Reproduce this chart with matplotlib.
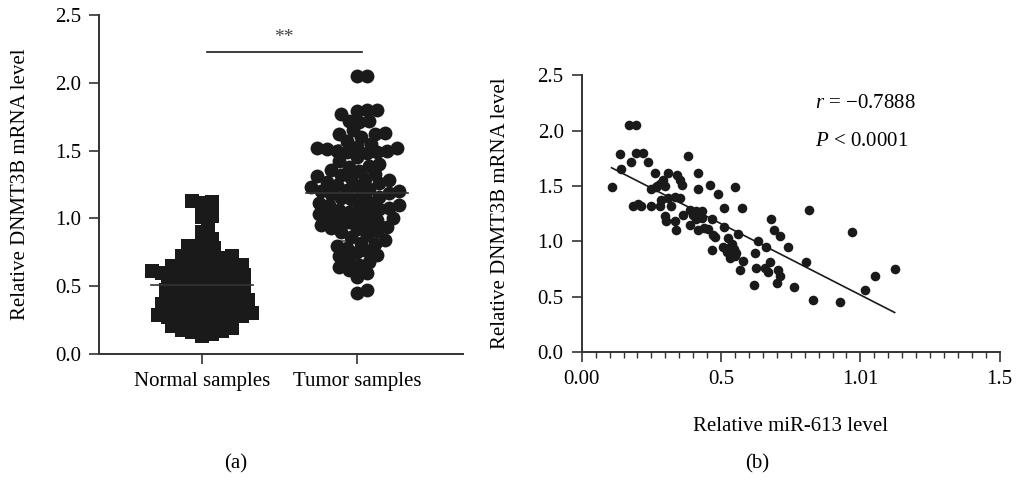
import numpy as np
import matplotlib.pyplot as plt
from matplotlib.ticker import MultipleLocator, FixedLocator

plt.rcParams['font.family'] = ['Liberation Serif', 'DejaVu Serif']
plt.rcParams['font.size'] = 15
plt.rcParams['mathtext.fontset'] = 'custom'
plt.rcParams['mathtext.it'] = 'Liberation Serif:italic'
plt.rcParams['mathtext.rm'] = 'Liberation Serif'

# panel (a): DNMT3B mRNA level per group
groups = ["Normal samples", "Tumor samples"]
normal = [1.13, 1.12, 1.11, 1.02, 1.01, 0.95, 0.90, 0.85, 0.83, 0.80, 0.78, 0.76,
          0.74, 0.72, 0.72, 0.71, 0.70, 0.69, 0.68, 0.66, 0.65, 0.64, 0.63, 0.62,
          0.62, 0.61, 0.60, 0.60, 0.59, 0.58, 0.58, 0.57, 0.56, 0.55, 0.55, 0.54,
          0.53, 0.52, 0.51, 0.50, 0.50, 0.49, 0.48, 0.47, 0.46, 0.45, 0.45, 0.44,
          0.43, 0.42, 0.41, 0.40, 0.40, 0.39, 0.38, 0.37, 0.37, 0.36, 0.35, 0.34,
          0.34, 0.33, 0.32, 0.31, 0.30, 0.30, 0.29, 0.29, 0.28, 0.27, 0.27, 0.26,
          0.25, 0.24, 0.23, 0.22, 0.21, 0.20, 0.19, 0.18, 0.17, 0.16, 0.15, 0.13]
tumor = [2.05, 2.05, 1.80, 1.80, 1.79, 1.77, 1.72, 1.72, 1.71, 1.65, 1.63, 1.62,
         1.62, 1.60, 1.57, 1.55, 1.53, 1.52, 1.52, 1.51, 1.50, 1.50, 1.49, 1.49,
         1.48, 1.45, 1.42, 1.40, 1.39, 1.38, 1.36, 1.35, 1.33, 1.32, 1.31, 1.30,
         1.29, 1.28, 1.27, 1.26, 1.25, 1.24, 1.23, 1.22, 1.21, 1.20, 1.20, 1.19,
         1.18, 1.17, 1.16, 1.15, 1.14, 1.12, 1.11, 1.10, 1.10, 1.09, 1.08, 1.07,
         1.06, 1.05, 1.04, 1.03, 1.02, 1.01, 1.00, 0.99, 0.98, 0.97, 0.96, 0.95,
         0.94, 0.93, 0.92, 0.91, 0.90, 0.88, 0.86, 0.84, 0.82, 0.81, 0.80, 0.78,
         0.76, 0.75, 0.73, 0.72, 0.70, 0.68, 0.66, 0.64, 0.62, 0.60, 0.57, 0.47,
         0.45]

# panel (b): miR-613 vs DNMT3B
mir = [0.107, 0.139, 0.140, 0.176, 0.170, 0.194, 0.196, 0.220, 0.238, 0.262,
       0.310, 0.342, 0.352, 0.361, 0.381, 0.417, 0.417, 0.459, 0.489, 0.549,
       0.250, 0.265, 0.280, 0.292, 0.300, 0.270, 0.184, 0.202, 0.214, 0.248,
       0.280, 0.286, 0.310, 0.334, 0.352, 0.322, 0.298, 0.304, 0.334, 0.337,
       0.364, 0.388, 0.400, 0.410, 0.430, 0.420, 0.388, 0.417, 0.410, 0.430,
       0.468, 0.453, 0.477, 0.510, 0.510, 0.575, 0.561, 0.440, 0.470, 0.469,
       0.507, 0.525, 0.540, 0.545, 0.531, 0.555, 0.520, 0.535, 0.550, 0.577,
       0.567, 0.621, 0.633, 0.663, 0.624, 0.618, 0.657, 0.675, 0.670, 0.704,
       0.710, 0.699, 0.761, 0.678, 0.689, 0.713, 0.742, 0.806, 0.816, 0.830,
       0.928, 0.969, 1.018, 1.054, 1.123]
dnmt = [1.49, 1.79, 1.65, 1.72, 2.05, 2.05, 1.80, 1.80, 1.72, 1.62,
        1.62, 1.60, 1.55, 1.51, 1.77, 1.62, 1.47, 1.51, 1.43, 1.49,
        1.47, 1.49, 1.52, 1.55, 1.50, 1.50, 1.32, 1.34, 1.32, 1.32,
        1.32, 1.37, 1.39, 1.40, 1.39, 1.32, 1.23, 1.18, 1.18, 1.10,
        1.24, 1.28, 1.24, 1.27, 1.27, 1.25, 1.15, 1.10, 1.20, 1.21,
        1.20, 1.11, 1.04, 1.13, 1.30, 1.30, 1.07, 1.12, 1.06, 0.92,
        0.95, 1.03, 0.98, 0.93, 0.85, 0.89, 0.90, 0.96, 0.87, 0.82,
        0.74, 0.89, 1.00, 0.95, 0.76, 0.61, 0.76, 0.81, 0.72, 0.74,
        0.69, 0.62, 0.59, 1.20, 1.10, 1.05, 0.95, 0.81, 1.28, 0.47,
        0.45, 1.08, 0.56, 0.69, 0.75]

ink = '#1a1a1a'
axc = '#333333'

fig = plt.figure(figsize=(10.17, 4.83), dpi=100)
ax1 = fig.add_axes([0.0973, 0.267, 0.358, 0.702])
ax2 = fig.add_axes([0.572, 0.271, 0.411, 0.5735])

ax1.set_xlim(-0.665, 1.684)
ax1.set_ylim(0, 2.5)


def swarm(vals, center, ax, d=9.0, step=2.0):
    # simple beeswarm, done in pixel space so spacing follows the marker size
    tr = ax.transData
    cx = tr.transform((center, 0))[0]
    placed = []
    xs = np.zeros(len(vals))
    for i in np.argsort(vals):
        py = tr.transform((center, vals[i]))[1]
        k = 0
        while True:
            off = (k + 1) // 2 * step * (1 if k % 2 else -1)
            ok = all((off - qx) ** 2 + (py - qy) ** 2 >= d * d for qx, qy in placed)
            if ok:
                break
            k += 1
        placed.append((off, py))
        xs[i] = tr.inverted().transform((cx + off, py))[0]
    return xs


xn = swarm(normal, 0, ax1, d=9.0)
xt = swarm(tumor, 1, ax1, d=10.0)
ax1.scatter(xn, normal, marker='s', s=110, color=ink, linewidths=0, zorder=3)
ax1.scatter(xt, tumor, marker='o', s=100, color=ink, linewidths=0, zorder=3)

for pos, vals in zip([0, 1], [normal, tumor]):
    m = np.mean(vals)
    sd = np.std(vals, ddof=1)
    ax1.plot([pos - 0.33, pos + 0.33], [m, m], color=axc, lw=1.2, zorder=4)
    for v in (m - sd, m + sd):
        ax1.plot([pos - 0.12, pos + 0.12], [v, v], color='#555555', lw=1.2, zorder=2)

ax1.plot([0.03, 1.03], [2.23, 2.23], color=ink, lw=1.2)
ax1.text(0.53, 2.27, "**", ha='center', va='bottom', fontsize=14, color='#444444')

ax1.set_xticks([0, 1])
ax1.set_xticklabels(groups)
ax1.set_yticks(np.arange(0, 2.51, 0.5))
ax1.set_yticklabels(["0.0", "0.5", "1.0", "1.5", "2.0", "2.5"])
ax1.set_ylabel("Relative DNMT3B mRNA level", labelpad=18)

ax2.scatter(mir, dnmt, s=48, color=ink, linewidths=0, zorder=3)
b, a = np.polyfit(mir, dnmt, 1)
xl = np.array([min(mir), max(mir)])
ax2.plot(xl, a + b * xl, color=ink, lw=1.2)

ax2.set_xlim(0, 1.5)
ax2.set_ylim(0, 2.5)
ax2.xaxis.set_major_locator(FixedLocator([0, 0.5, 1.0, 1.5]))
ax2.set_xticklabels(["0.00", "0.5", "1.01", "1.5"])
ax2.xaxis.set_minor_locator(MultipleLocator(0.05))
ax2.set_yticks(np.arange(0, 2.51, 0.5))
ax2.set_yticklabels(["0.0", "0.5", "1.0", "1.5", "2.0", "2.5"])
ax2.set_ylabel("Relative DNMT3B mRNA level", labelpad=20)
ax2.set_xlabel("Relative miR-613 level", labelpad=20)
ax2.text(0.836, 2.24, "$r$ = \u22120.7888", va='center', fontsize=15)
ax2.text(0.836, 1.90, "$P$ < 0.0001", va='center', fontsize=15)

for ax in (ax1, ax2):
    for sp in ('top', 'right'):
        ax.spines[sp].set_visible(False)
    for sp in ('left', 'bottom'):
        ax.spines[sp].set_color(axc)
        ax.spines[sp].set_linewidth(1.4)
    ax.tick_params(which='major', direction='out', length=7, width=1.2, color=axc, pad=6)
    ax.tick_params(which='minor', direction='out', length=4, width=1.0, color=axc)

fig.text(0.232, 0.03, "(a)", ha='center', fontsize=15)
fig.text(0.745, 0.03, "(b)", ha='center', fontsize=15)

fig.savefig("out.png", dpi=100)
